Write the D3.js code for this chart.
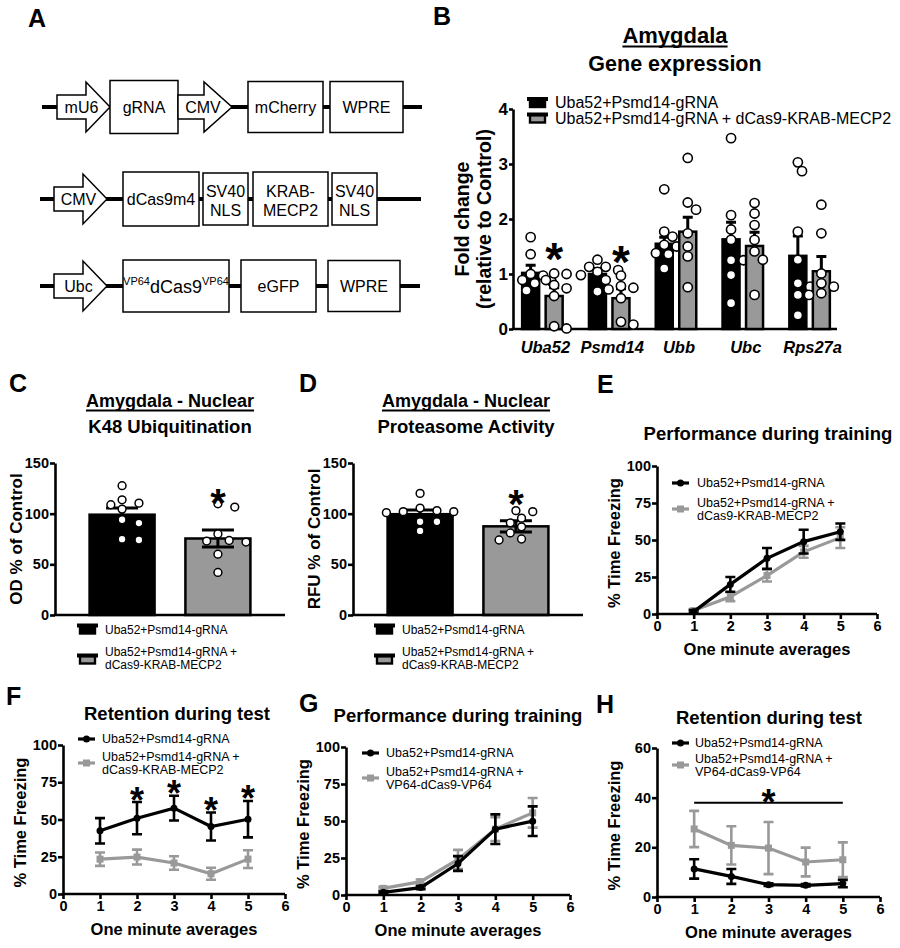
<!DOCTYPE html>
<html><head><meta charset="utf-8">
<script src="https://cdn.jsdelivr.net/npm/d3@7"></script>
<style>body{margin:0;background:#fff}svg{font-family:"Liberation Sans",Arial,Helvetica,sans-serif}</style>
</head><body>
<svg id="c" width="900" height="948"></svg>
<script>
// ---------- DATA ----------
// Panel B: gene expression
const genes = ["Uba52","Psmd14","Ubb","Ubc","Rps27a"];
const groupNames = ["Uba52+Psmd14-gRNA","Uba52+Psmd14-gRNA + dCas9-KRAB-MECP2"];
const bMeanCtrl = [1.02,1.0,1.55,1.63,1.33];
const bSemCtrl  = [0.14,0.1,0.12,0.31,0.36];
const bMeanKrab = [0.6,0.56,1.77,1.51,1.05];
const bSemKrab  = [0.15,0.17,0.26,0.25,0.27];
const bDotsCtrl = [
  [1.67,1.36,1.0,0.97,0.89,0.87,0.83,0.7],
  [1.26,1.13,1.13,1.07,1.04,0.98,0.89,0.68],
  [2.54,1.77,1.68,1.53,1.5,1.38,1.36,1.1],
  [3.47,2.07,1.81,1.62,1.25,1.25,0.98,0.47],
  [3.03,2.87,1.77,1.26,0.83,0.77,0.62,0.25]
];
const bDotsKrab = [
  [1.01,1.0,0.89,0.8,0.74,0.6,0.05,0.01],
  [0.97,0.78,0.75,0.72,0.56,0.13,0.08],
  [3.11,2.3,2.17,1.74,1.5,1.32,0.76],
  [2.29,2.1,1.89,1.62,1.41,1.26,0.62],
  [2.26,1.74,1.01,0.83,0.77,0.65,0.62]
];
const bSigGenes = ["Uba52","Psmd14"];
const bTicks = [0,1,2,3,4];

// Panel C: K48 ubiquitination
const cMeans = [99,75.5];
const cSems = [6.5,8.5];
const cDots = [
  [127.6,113.7,110.4,108.8,104.5,94,90.7,74,74.8],
  [106.5,109.8,80,73.5,72,73,60,42]
];
const cStar = 120;
// Panel D: proteasome activity
const dMeans = [99.5,87.5];
const dSems = [4,5.5];
const dDots = [
  [120,105.5,103,102,102,101,92,92,83],
  [103,102,95.6,91,87,81,74,75]
];
const dStar = 119;
const cdTicks = [0,50,100,150];

// Behaviour panels
const minutes = [1,2,3,4,5];
const xTicks = [0,1,2,3,4,5,6];
const eCtrl = [1.6,20,37.6,48.9,55.6],  eCtrlErr = [1,5,7,8,5.5];
const eKrab = [2.3,11.7,26,42,51.6],    eKrabErr = [1,3,4,4,7];
const fCtrl = [42.4,50.9,57.6,45.3,50.2], fCtrlErr = [8.5,10.8,8.3,9.4,12.2];
const fKrab = [23.4,24.8,20.8,13.6,23.4], fKrabErr = [4.5,5,4.5,4,6];
const fSigMinutes = [2,3,4,5];
const gCtrl = [1.8,5,21.3,44.5,49.9],   gCtrlErr = [0.6,1,5,10,10];
const gVp = [4.5,9,24,44.5,55.5],       gVpErr = [1,1.5,6.5,8,10];
const hCtrl = [11.3,8.3,4.97,4.7,5.4],  hCtrlErr = [3.9,3,0.5,0.5,1.5];
const hVp = [27.4,20.8,19.7,14.1,15],   hVpErr = [7.3,7.7,10.5,5.8,7];
const hSigLevel = 38;
const pctTicks = [0,25,50,75,100];
const hTicks = [0,20,40,60];
const legendKrab = ["Uba52+Psmd14-gRNA +","dCas9-KRAB-MECP2"];
const legendVp = ["Uba52+Psmd14-gRNA +","VP64-dCas9-VP64"];

// ---------- HELPERS ----------
const svg = d3.select("#c");
const GREY = "#999999";
const fmt = d3.format("d");
function txt(g,x,y,s,o={}){
  return g.append("text").attr("x",x).attr("y",y).text(s)
   .attr("font-size",o.size||14).attr("font-weight",o.bold?"bold":"normal")
   .attr("font-style",o.italic?"italic":"normal")
   .attr("text-anchor",o.anchor||"start").attr("fill",o.fill||"#000");
}
function underlined(g,cx,y,s,size){
  const t = txt(g,cx,y,s,{size,bold:true,anchor:"middle"});
  const w = t.node().getComputedTextLength();
  g.append("line").attr("x1",cx-w/2).attr("x2",cx+w/2).attr("y1",y+3.5).attr("y2",y+3.5)
   .attr("stroke","#000").attr("stroke-width",2);
}
function yLabel(g,x,y,s,size){
  g.append("text").attr("transform",`translate(${x},${y}) rotate(-90)`)
   .attr("text-anchor","middle").attr("font-size",size).attr("font-weight","bold").text(s);
}
function star(g,cx,cy,size){
  txt(g,cx,cy+0.58*size,"*",{size,bold:true,anchor:"middle"});
}
function styleAxis(ax,size){
  ax.attr("font-family",null).attr("font-size",null);
  ax.select(".domain").attr("stroke","#000").attr("stroke-width",2.6);
  ax.selectAll(".tick line").attr("stroke","#000").attr("stroke-width",2.6);
  ax.selectAll(".tick text").attr("font-size",size).attr("font-weight","bold").attr("fill","#000");
}
function yAxis(g,scale,x,ticks,size,ts=5){
  const ax = g.append("g").attr("transform",`translate(${x},0)`)
   .call(d3.axisLeft(scale).tickValues(ticks).tickFormat(fmt).tickSize(ts).tickSizeOuter(0).tickPadding(1));
  styleAxis(ax,size);
}
function hLine(g,x0,x1,y){
  g.append("line").attr("x1",x0-1.3).attr("x2",x1).attr("y1",y).attr("y2",y)
   .attr("stroke","#000").attr("stroke-width",2.6);
}
function dodge(vals,y,r){
  const order = vals.map((v,i)=>i).sort((a,b)=>vals[b]-vals[a]);
  const placed = [], out = new Array(vals.length);
  order.forEach(i=>{
    const py = y(vals[i]);
    for(let k=0;k<40;k++){
      const off = (k%2?1:-1)*Math.ceil(k/2)*r*0.9;
      if(placed.every(p=>Math.hypot(p.x-off,p.y-py)>=2*r+0.3)){
        placed.push({x:off,y:py}); out[i]={dx:off,y:py}; break;
      }
    }
  });
  return out;
}
function barSwatch(g,x,yc,color){
  g.append("rect").attr("x",x+3).attr("y",yc-3).attr("width",15).attr("height",7.5)
   .attr("fill",color).attr("stroke","#000").attr("stroke-width",2.4);
  g.append("rect").attr("x",x).attr("y",yc-5.5).attr("width",21).attr("height",4).attr("fill","#000");
}

// ---------- PANEL LETTERS ----------
[["A",28,27],["B",433,25],["C",9,392],["D",299,392],["E",597,393],["F",6,705],["G",299,712],["H",596,713]]
 .forEach(([s,x,y])=>txt(svg,x,y,s,{size:25,bold:true}));

// ---------- PANEL A (constructs) ----------
const aRows = [
  {y:107, x0:42, x1:422, parts:[
    {t:"arrow", x0:57, xh:86, tip:110, label:"mU6"},
    {t:"box", x0:110, x1:178, h:53, label:["gRNA"]},
    {t:"arrow", x0:178, xh:204, tip:232, label:"CMV"},
    {t:"box", x0:248, x1:323, h:51, label:["mCherry"]},
    {t:"box", x0:330, x1:403, h:51, label:["WPRE"]}]},
  {y:199, x0:40, x1:421, parts:[
    {t:"arrow", x0:54, xh:83, tip:107, label:"CMV"},
    {t:"box", x0:123, x1:199, h:54, label:["dCas9m4"]},
    {t:"box", x0:203, x1:248, h:52, label:["SV40","NLS"]},
    {t:"box", x0:253, x1:328, h:54, label:["KRAB-","MECP2"]},
    {t:"box", x0:332, x1:377, h:52, label:["SV40","NLS"]}]},
  {y:286, x0:40, x1:420, parts:[
    {t:"arrow", x0:54, xh:83, tip:107, label:"Ubc"},
    {t:"box", x0:123, x1:229, h:52, label:null},
    {t:"box", x0:241, x1:316, h:52, label:["eGFP"]},
    {t:"box", x0:328, x1:400, h:51, label:["WPRE"]}]}
];
const gA = svg.append("g");
aRows.forEach(row=>{
  gA.append("line").attr("x1",row.x0).attr("x2",row.x1).attr("y1",row.y).attr("y2",row.y)
    .attr("stroke","#000").attr("stroke-width",4);
  row.parts.forEach(p=>{
    if(p.t==="arrow"){
      const y=row.y;
      gA.append("path").attr("d",`M${p.x0},${y-12}H${p.xh}V${y-25}L${p.tip},${y}L${p.xh},${y+25}V${y+12}H${p.x0}Z`)
        .attr("fill","#fff").attr("stroke","#000").attr("stroke-width",1.5);
      txt(gA,(p.x0+p.tip)/2-2,y+5.5,p.label,{size:16,anchor:"middle"});
    } else {
      gA.append("rect").attr("x",p.x0).attr("y",row.y-p.h/2).attr("width",p.x1-p.x0).attr("height",p.h)
        .attr("fill","#fff").attr("stroke","#000").attr("stroke-width",1.5);
      const cx=(p.x0+p.x1)/2;
      if(p.label && p.label.length===1) txt(gA,cx,row.y+6,p.label[0],{size:16,anchor:"middle"});
      else if(p.label){ txt(gA,cx,row.y-2,p.label[0],{size:16,anchor:"middle"}); txt(gA,cx,row.y+17,p.label[1],{size:16,anchor:"middle"}); }
      else {
        const t = gA.append("text").attr("x",cx).attr("y",row.y+7).attr("text-anchor","middle");
        t.append("tspan").attr("font-size",11).attr("dy",-8).text("VP64");
        t.append("tspan").attr("font-size",18).attr("dy",8).text("dCas9");
        t.append("tspan").attr("font-size",11).attr("dy",-8).text("VP64");
      }
    }
  });
});

// ---------- PANEL B ----------
(function(){
  const g = svg.append("g");
  underlined(g,675,43,"Amygdala",22);
  txt(g,675,71,"Gene expression",{size:21.5,bold:true,anchor:"middle"});
  const y = d3.scaleLinear().domain([0,4]).range([329,109]);
  const x = d3.scaleBand().domain(genes).range([509,843]);
  const bw = 17, off = 11.75;
  yAxis(g,y,513,bTicks,17,4);
  hLine(g,513,837,329);
  yLabel(g,469,219,"Fold change",19.5);
  yLabel(g,491,219,"(relative to Control)",19.5);
  const sets = [
    {means:bMeanCtrl, sems:bSemCtrl, dots:bDotsCtrl, color:"#000", dx:-off},
    {means:bMeanKrab, sems:bSemKrab, dots:bDotsKrab, color:GREY, dx:off}];
  sets.forEach(s=>{
    genes.forEach((gn,i)=>{
      const cx = x(gn)+x.bandwidth()/2+s.dx;
      g.append("rect").attr("x",cx-bw/2).attr("y",y(s.means[i])).attr("width",bw).attr("height",y(0)-y(s.means[i]))
       .attr("fill",s.color).attr("stroke","#000").attr("stroke-width",2.5);
      const top = y(s.means[i]+s.sems[i]);
      g.append("path").attr("d",`M${cx},${y(s.means[i])}V${top}M${cx-5},${top}H${cx+5}`)
       .attr("stroke","#000").attr("stroke-width",3).attr("fill","none");
      const pos = dodge(s.dots[i],y,4.6);
      g.selectAll(null).data(pos).join("circle").attr("cx",d=>cx+d.dx).attr("cy",d=>d.y).attr("r",4.6)
       .attr("fill","#fff").attr("stroke","#000").attr("stroke-width",1.6);
    });
  });
  bSigGenes.forEach(gn=>{
    const i = genes.indexOf(gn);
    const cx = x(gn)+x.bandwidth()/2+off;
    star(g,cx,y(d3.max(bDotsKrab[i])+0.45),46);
  });
  genes.forEach(gn=>txt(g,x(gn)+x.bandwidth()/2+3,353,gn,{size:16.5,bold:true,italic:true,anchor:"middle"}));
  [0,1].forEach(k=>{
    barSwatch(g,527,102.5+k*15.5,k?GREY:"#000");
    txt(g,555,108+k*15.5,groupNames[k],{size:16});
  });
})();

// ---------- PANELS C & D ----------
function barPanel(o){
  const g = svg.append("g");
  underlined(g,o.cx,407,"Amygdala - Nuclear",18);
  txt(g,o.cx,433,o.sub,{size:18.5,bold:true,anchor:"middle"});
  const y = d3.scaleLinear().domain([0,150]).range([615,463]);
  const x = d3.scalePoint().domain([0,1]).range([o.x0,o.x1]).padding(0.7);
  yAxis(g,y,o.x0,cdTicks,14.5,5);
  yLabel(g,o.x0-33,539,o.ylab,17);
  const colors=["#000",GREY];
  [0,1].forEach(k=>{
    const cx=x(k), w=65;
    g.append("rect").attr("x",cx-w/2).attr("y",y(o.means[k])).attr("width",w).attr("height",y(0)-y(o.means[k]))
     .attr("fill",colors[k]).attr("stroke","#000").attr("stroke-width",2.5);
    const t=y(o.means[k]+o.sems[k]), b=y(o.means[k]-o.sems[k]);
    g.append("path").attr("d",`M${cx},${b}V${t}M${cx-16},${t}H${cx+16}M${cx-16},${b}H${cx+16}`)
     .attr("stroke","#000").attr("stroke-width",3).attr("fill","none");
    const pos = dodge(o.dots[k],y,3.9);
    g.selectAll(null).data(pos).join("circle").attr("cx",d=>cx+d.dx*1.6).attr("cy",d=>d.y).attr("r",3.9)
     .attr("fill","#fff").attr("stroke","#000").attr("stroke-width",1.5);
  });
  hLine(g,o.x0,o.x1,615);
  star(g,x(1),y(o.star),40);
  barSwatch(g,o.lx,629,"#000");
  txt(g,o.lx+28,634,groupNames[0],{size:12});
  barSwatch(g,o.lx,659,GREY);
  txt(g,o.lx+28,656,legendKrab[0],{size:12});
  txt(g,o.lx+28,669,legendKrab[1],{size:12});
}
barPanel({cx:170,sub:"K48 Ubiquitination",x0:55,x1:285,ylab:"OD % of Control",means:cMeans,sems:cSems,dots:cDots,star:cStar,lx:77});
barPanel({cx:466,sub:"Proteasome Activity",x0:353,x1:583,ylab:"RFU % of Control",means:dMeans,sems:dSems,dots:dDots,star:dStar,lx:374});

// ---------- LINE PANELS ----------
function linePanel(o){
  const g = svg.append("g");
  txt(g,o.tx,o.ty,o.title,{size:18.5,bold:true,anchor:"middle"});
  const x = d3.scaleLinear().domain([0,6]).range([o.x0,o.x1]);
  const y = d3.scaleLinear().domain([0,o.ymax]).range([o.yb,o.yt]);
  yAxis(g,y,o.x0,o.yticks,14.5,5);
  const ax = g.append("g").attr("transform",`translate(0,${o.yb})`)
    .call(d3.axisBottom(x).tickValues(xTicks).tickFormat(fmt).tickSize(5).tickSizeOuter(0).tickPadding(2));
  styleAxis(ax,14.5);
  ax.select(".domain").attr("d",`M${o.x0-1.3},0H${o.x1}`);
  yLabel(g,o.x0-37,(o.yb+o.yt)/2+3,"% Time Freezing",16.5);
  txt(g,(o.x0+o.x1)/2,o.yb+41,"One minute averages",{size:16.5,bold:true,anchor:"middle"});
  o.series.forEach(s=>{
    const pts = minutes.map((m,i)=>({m,v:s.vals[i],e:s.errs[i]}));
    g.selectAll(null).data(pts).join("path")
     .attr("d",d=>{const cx=x(d.m),t=y(d.v+d.e),b=y(d.v-d.e);return `M${cx},${b}V${t}M${cx-5},${t}H${cx+5}M${cx-5},${b}H${cx+5}`;})
     .attr("stroke",s.color).attr("stroke-width",2.6).attr("fill","none");
    g.append("path").datum(pts).attr("d",d3.line().x(d=>x(d.m)).y(d=>y(d.v)))
     .attr("stroke",s.color).attr("stroke-width",3.2).attr("fill","none");
    if(s.square) g.selectAll(null).data(pts).join("rect").attr("x",d=>x(d.m)-3.5).attr("y",d=>y(d.v)-3.5)
      .attr("width",7).attr("height",7).attr("fill",s.color);
    else g.selectAll(null).data(pts).join("circle").attr("cx",d=>x(d.m)).attr("cy",d=>y(d.v)).attr("r",3.5).attr("fill",s.color);
  });
  // legend
  const L=o.leg;
  g.append("line").attr("x1",L.x).attr("x2",L.x+17).attr("y1",L.y1).attr("y2",L.y1).attr("stroke","#000").attr("stroke-width",3.2);
  g.append("circle").attr("cx",L.x+8.5).attr("cy",L.y1).attr("r",3.5).attr("fill","#000");
  txt(g,L.tx,L.y1+4,groupNames[0],{size:12.5});
  g.append("line").attr("x1",L.x).attr("x2",L.x+17).attr("y1",L.y2).attr("y2",L.y2).attr("stroke",GREY).attr("stroke-width",3.2);
  g.append("rect").attr("x",L.x+5).attr("y",L.y2-3.5).attr("width",7).attr("height",7).attr("fill",GREY);
  txt(g,L.tx,L.y2-2,o.leg2[0],{size:12.5});
  txt(g,L.tx,L.y2+11,o.leg2[1],{size:12.5});
  return {g,x,y};
}
linePanel({title:"Performance during training",tx:768,ty:440,x0:657,x1:877,yb:614,yt:466,ymax:100,yticks:pctTicks,
  series:[{vals:eKrab,errs:eKrabErr,color:GREY,square:true},{vals:eCtrl,errs:eCtrlErr,color:"#000"}],
  leg:{x:672,tx:697,y1:483,y2:509},leg2:legendKrab});
const F = linePanel({title:"Retention during test",tx:177,ty:720,x0:63,x1:285,yb:894,yt:745,ymax:100,yticks:pctTicks,
  series:[{vals:fKrab,errs:fKrabErr,color:GREY,square:true},{vals:fCtrl,errs:fCtrlErr,color:"#000"}],
  leg:{x:78,tx:102,y1:739,y2:763},leg2:legendKrab});
fSigMinutes.forEach(m=>{const i=minutes.indexOf(m); star(F.g,F.x(m),F.y(fCtrl[i]+fCtrlErr[i]+7),36);});
linePanel({title:"Performance during training",tx:458,ty:722,x0:346,x1:570,yb:895,yt:747,ymax:100,yticks:pctTicks,
  series:[{vals:gVp,errs:gVpErr,color:GREY,square:true},{vals:gCtrl,errs:gCtrlErr,color:"#000"}],
  leg:{x:362,tx:386,y1:753,y2:778},leg2:legendVp});
const H = linePanel({title:"Retention during test",tx:769,ty:724,x0:657,x1:880,yb:897,yt:748,ymax:60,yticks:hTicks,
  series:[{vals:hVp,errs:hVpErr,color:GREY,square:true},{vals:hCtrl,errs:hCtrlErr,color:"#000"}],
  leg:{x:672,tx:695,y1:743,y2:765},leg2:legendVp});
H.g.append("line").attr("x1",H.x(1)).attr("x2",H.x(5)).attr("y1",H.y(hSigLevel)).attr("y2",H.y(hSigLevel)).attr("stroke","#000").attr("stroke-width",2);
star(H.g,H.x(3),H.y(hSigLevel)-9,36);
</script>
</body></html>
